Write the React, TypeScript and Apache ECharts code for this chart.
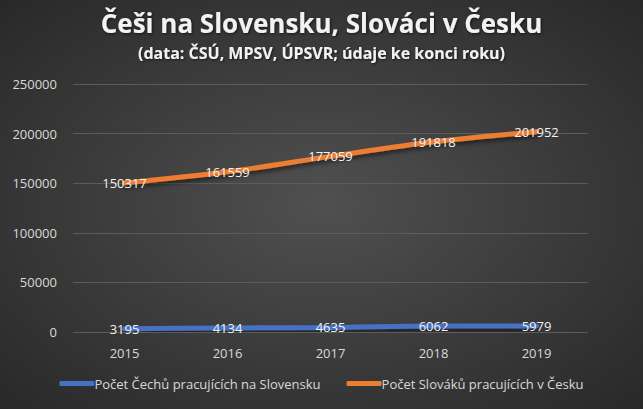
import React, { useEffect, useRef } from "react";
import * as echarts from "echarts";

const years = ["2015", "2016", "2017", "2018", "2019"];
const czechsInSlovakia = [3195, 4134, 4635, 6062, 5979];
const slovaksInCzechia = [150317, 161559, 177059, 191818, 201952];
const seriesNames = ["Počet Čechů pracujících na Slovensku", "Počet Slováků pracujících v Česku"];
const seriesColors = ["#4472c4", "#ed7d31"];
const titleText = "Češi na Slovensku, Slováci v Česku";
const subtitleText = "(data: ČSÚ, MPSV, ÚPSVR; údaje ke konci roku)";

export default function App() {
  const ref = useRef<HTMLDivElement>(null);
  useEffect(() => {
    const chart = echarts.init(ref.current!, null, { renderer: "svg" });
    const font = "'Open Sans', 'Liberation Sans', sans-serif";
    const label = {
      show: true,
      position: "inside",
      color: "#f2f2f2",
      fontSize: 13,
      fontFamily: font,
      offset: [0, -1],
    };
    const mkSeries = (name: string, data: number[], color: string) => ({
      name,
      type: "line",
      data,
      smooth: 0.3,
      symbol: "circle",
      symbolSize: 2,
      showSymbol: true,
      itemStyle: { color: "rgba(0,0,0,0)", borderWidth: 0 },
      lineStyle: {
        width: 5,
        color,
        cap: "round",
        shadowColor: "rgba(0,0,0,0.5)",
        shadowBlur: 4,
        shadowOffsetY: 3,
      },
      label,
      labelLayout: { hideOverlap: false },
      z: 2,
    });
    chart.setOption({
      animation: false,
      backgroundColor: {
        type: "radial",
        x: 0.5,
        y: 0.5,
        r: 0.75,
        colorStops: [
          { offset: 0, color: "#505050" },
          { offset: 1, color: "#262626" },
        ],
      },
      title: [
        {
          text: titleText,
          left: "center",
          top: 5,
          textStyle: {
            color: "#f2f2f2",
            fontSize: 26,
            fontWeight: "bold",
            fontFamily: font,
            textShadowColor: "rgba(0,0,0,0.6)",
            textShadowBlur: 3,
            textShadowOffsetX: 1,
            textShadowOffsetY: 1,
          },
        },
        {
          text: subtitleText,
          left: "center",
          top: 40,
          textStyle: {
            color: "#f2f2f2",
            fontSize: 16,
            fontWeight: "bold",
            fontFamily: font,
            textShadowColor: "rgba(0,0,0,0.6)",
            textShadowBlur: 2,
            textShadowOffsetX: 1,
            textShadowOffsetY: 1,
          },
        },
      ],
      legend: {
        bottom: 14,
        left: "center",
        itemWidth: 35,
        itemHeight: 5,
        itemGap: 26,
        icon: "roundRect",
        textStyle: { color: "#d9d9d9", fontSize: 13, fontFamily: font, padding: [0, 0, 0, -5] },
        data: seriesNames.map((n, i) => ({ name: n, itemStyle: { color: seriesColors[i], opacity: 1 } })),
      },
      grid: { left: 73, right: 55, top: 84, bottom: 77, containLabel: false },
      xAxis: {
        type: "category",
        data: years,
        boundaryGap: true,
        axisLine: { show: false },
        axisTick: { show: false },
        axisLabel: { color: "#d9d9d9", fontSize: 13, fontFamily: font, margin: 14 },
      },
      yAxis: {
        type: "value",
        min: 0,
        max: 250000,
        interval: 50000,
        axisLine: { show: false },
        axisTick: { show: false },
        axisLabel: {
          color: "#d9d9d9",
          fontSize: 13,
          fontFamily: font,
          margin: 16,
          formatter: (v: number) => String(v),
        },
        splitLine: { lineStyle: { color: "#5c5c5c", width: 1 } },
      },
      series: [
        mkSeries(seriesNames[0], czechsInSlovakia, seriesColors[0]),
        mkSeries(seriesNames[1], slovaksInCzechia, seriesColors[1]),
      ],
    });
    return () => chart.dispose();
  }, []);
  return <div ref={ref} style={{ width: 643, height: 409, position: "absolute", left: 0, top: 0 }} />;
}
